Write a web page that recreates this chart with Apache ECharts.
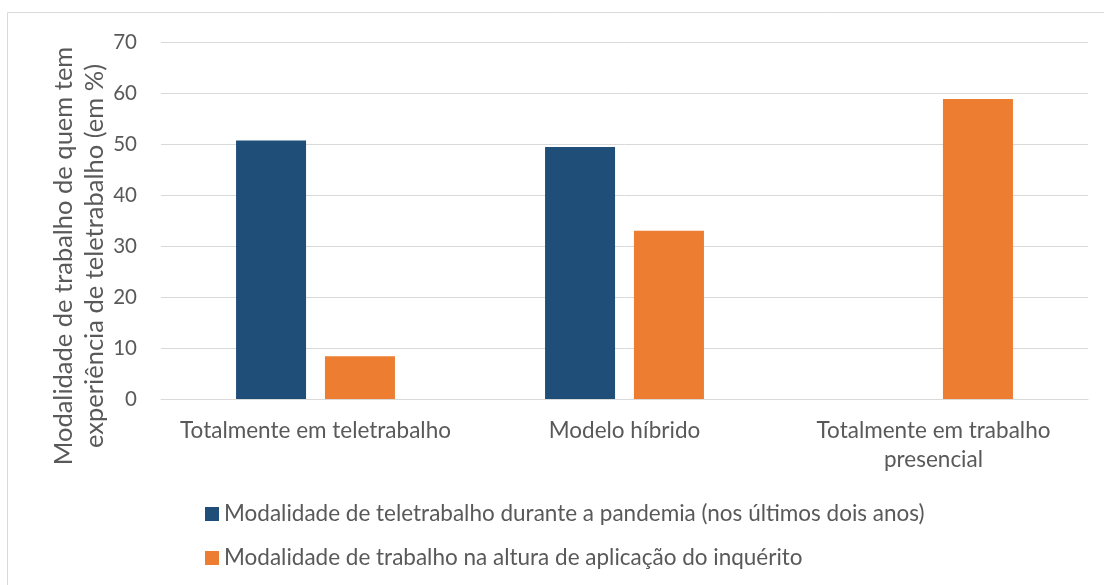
<!DOCTYPE html>
<html><head><meta charset="utf-8">
<script src="https://cdn.jsdelivr.net/npm/echarts@6/dist/echarts.min.js"></script>
<style>html,body{margin:0;padding:0;background:#fff}#c{width:1104px;height:585px}</style>
</head><body><div id="c"></div>
<script>
const categories = ["Totalmente em teletrabalho", "Modelo híbrido", "Totalmente em trabalho\npresencial"];
const seriesNames = ["Modalidade de teletrabalho durante a pandemia (nos últimos dois anos)", "Modalidade de trabalho na altura de aplicação do inquérito"];
const pandemia = [50.7, 49.4, 0];
const inquerito = [8.4, 33.0, 58.8];
const yTicks = [0, 10, 20, 30, 40, 50, 60, 70];
const yAxisTitle = "Modalidade de trabalho de quem tem\nexperiência de teletrabalho (em %)";

const FONT = "Lato";
const TXT = "#595959";
const chart = echarts.init(document.getElementById('c'), null, {renderer: 'canvas'});
chart.setOption({
  animation: false,
  textStyle: {fontFamily: FONT},
  graphic: [
    {type: 'rect', shape: {x: 7.5, y: 12.5, width: 1200, height: 700}, style: {fill: 'none', stroke: '#D9D9D9', lineWidth: 1}, silent: true},
    {type: 'text', x: 79, y: 256, rotation: Math.PI / 2, silent: true,
     style: {text: yAxisTitle, fontFamily: FONT, fontSize: 25.5, fill: TXT, lineHeight: 31, align: 'center', verticalAlign: 'middle'}}
  ],
  grid: {left: 161, right: 16, top: 42, bottom: 186},
  legend: {
    orient: 'vertical', left: 200, top: 497, itemGap: 20, itemWidth: 14, itemHeight: 14,
    icon: 'rect', textStyle: {fontFamily: FONT, fontSize: 22.5, color: TXT, lineHeight: 24},
    data: seriesNames
  },
  xAxis: {
    type: 'category', data: categories,
    axisLine: {lineStyle: {color: '#D9D9D9', width: 1}}, axisTick: {show: false},
    axisLabel: {fontFamily: FONT, fontSize: 22.5, color: TXT, margin: 17, lineHeight: 29, interval: 0}
  },
  yAxis: {
    type: 'value', min: yTicks[0], max: yTicks[yTicks.length - 1], interval: 10,
    axisLine: {show: false}, axisTick: {show: false},
    axisLabel: {fontFamily: FONT, fontSize: 20.5, color: TXT, margin: 24},
    splitLine: {lineStyle: {color: '#D9D9D9', width: 1}}
  },
  series: [
    {name: seriesNames[0], type: 'bar', data: pandemia, barWidth: 70, barGap: '27%', itemStyle: {color: '#1F4E79'}},
    {name: seriesNames[1], type: 'bar', data: inquerito, barWidth: 70, itemStyle: {color: '#ED7D31'}}
  ]
});
</script></body></html>
